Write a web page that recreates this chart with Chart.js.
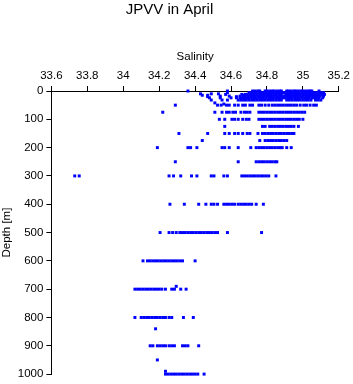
<!DOCTYPE html>
<html>
<head>
<meta charset="utf-8">
<script src="https://cdn.jsdelivr.net/npm/chart.js@4.4.1/dist/chart.umd.min.js"></script>
<style>
  html, body { margin: 0; padding: 0; background: #fff; }
</style>
</head>
<body>
<canvas id="myChart" width="353" height="384"></canvas>
<script>
// tick labels
const xTickValues = [33.6, 33.8, 34, 34.2, 34.4, 34.6, 34.8, 35, 35.2];
const xTickLabels = ["33.6", "33.8", "34", "34.2", "34.4", "34.6", "34.8", "35", "35.2"];
const yTickValues = [0, 100, 200, 300, 400, 500, 600, 700, 800, 900, 1000];

// sampled depths [m] and the salinity readings found at each depth
const depthLevels = [0, 6, 10, 12, 15, 18, 20, 24, 32, 42, 46, 50, 75, 100, 125, 150, 175, 200, 250, 300, 400, 500, 600, 690, 700, 800, 840, 900, 950, 990, 1000];
const salinityByLevel = [
  // 0
  [34.36, 34.58, 34.72, 34.735, 34.75, 34.76, 34.79, 34.80, 34.815, 34.83, 34.84, 34.855, 34.87, 34.88, 34.91, 34.92, 34.935, 34.95, 34.96, 34.975, 34.99, 35.0, 35.015, 35.03, 35.04, 35.05, 35.09],
  // 6
  [34.58, 34.70, 34.715, 34.73, 34.74, 34.755, 34.77, 34.78, 34.795, 34.81, 34.82, 34.835, 34.85, 34.86, 34.875, 34.89, 34.90, 34.915, 34.93, 34.94, 34.955, 34.97, 34.98, 34.995, 35.01, 35.02, 35.035, 35.05, 35.06, 35.075, 35.09, 35.10, 35.115],
  // 10
  [34.43, 34.49, 34.53],
  // 12
  [34.57, 34.66, 34.68, 34.69, 34.705, 34.72, 34.73, 34.745, 34.76, 34.77, 34.785, 34.80, 34.81, 34.825, 34.84, 34.85, 34.865, 34.88, 34.905, 34.92, 34.93, 34.945, 34.96, 34.97, 34.985, 35.0, 35.01, 35.025, 35.04, 35.05, 35.065, 35.08, 35.09, 35.105, 35.12],
  // 15
  [34.44, 34.47, 34.67],
  // 18
  [34.54, 34.59, 34.65, 34.67, 34.68, 34.695, 34.71, 34.72, 34.735, 34.75, 34.76, 34.775, 34.79, 34.80, 34.815, 34.83, 34.84, 34.855, 34.87, 34.88, 34.895, 34.91, 34.92, 34.935, 34.95, 34.96, 34.975, 34.99, 35.0, 35.015, 35.03, 35.04, 35.055, 35.07, 35.08, 35.095, 35.115],
  // 20
  [34.47, 34.63],
  // 24
  [34.48, 34.54, 34.60, 34.63, 34.65, 34.66, 34.675, 34.69, 34.70, 34.715, 34.73, 34.74, 34.755, 34.77, 34.78, 34.795, 34.81, 34.82, 34.835, 34.85, 34.86, 34.875, 34.89, 34.90, 34.915, 34.93, 34.94, 34.955, 34.97, 34.98, 34.995, 35.01, 35.02, 35.035, 35.05, 35.06, 35.075, 35.09, 35.11],
  // 32
  [34.49, 34.55, 34.58, 34.64, 34.655, 34.67, 34.685, 34.70, 34.715, 34.73, 34.745, 34.76, 34.775, 34.79, 34.805, 34.82, 34.835, 34.85, 34.865, 34.88, 34.91, 34.925, 34.94, 34.955, 34.97, 34.985, 35.0, 35.015, 35.03, 35.045, 35.07, 35.085, 35.10],
  // 42
  [34.51],
  // 46
  [34.56],
  // 50
  [34.29, 34.525, 34.545, 34.575, 34.59, 34.62, 34.64, 34.665, 34.68, 34.705, 34.72, 34.755, 34.77, 34.79, 34.81, 34.83, 34.845, 34.86, 34.875, 34.89, 34.905, 34.92, 34.935, 34.95, 34.965, 34.985, 35.005, 35.02, 35.04, 35.06, 35.075],
  // 75
  [34.22, 34.51, 34.55, 34.575, 34.59, 34.61, 34.625, 34.655, 34.675, 34.69, 34.705, 34.755, 34.77, 34.785, 34.80, 34.815, 34.83, 34.845, 34.86, 34.875, 34.89, 34.905, 34.92, 34.935, 34.95, 34.965, 34.98, 34.995, 35.01],
  // 100
  [34.535, 34.565, 34.605, 34.62, 34.64, 34.665, 34.685, 34.70, 34.755, 34.77, 34.785, 34.80, 34.815, 34.83, 34.845, 34.86, 34.875, 34.89, 34.905, 34.92, 34.935, 34.95, 34.965, 34.98, 35.0],
  // 125
  [34.565, 34.775, 34.79, 34.815, 34.83, 34.845, 34.86, 34.875, 34.89, 34.905, 34.92, 34.935, 34.95, 34.975],
  // 150
  [34.31, 34.47, 34.565, 34.59, 34.62, 34.64, 34.665, 34.69, 34.705, 34.75, 34.775, 34.79, 34.805, 34.82, 34.835, 34.85, 34.865, 34.88, 34.895, 34.91, 34.925, 34.94, 34.95],
  // 175
  [34.44, 34.76, 34.79, 34.805, 34.82, 34.835, 34.85, 34.865, 34.88, 34.895, 34.91],
  // 200
  [34.19, 34.36, 34.375, 34.41, 34.55, 34.565, 34.59, 34.64, 34.71, 34.74, 34.755, 34.77, 34.785, 34.80, 34.815, 34.83, 34.845, 34.86, 34.875, 34.885, 34.91, 34.935],
  // 250
  [34.29, 34.64, 34.74, 34.755, 34.77, 34.785, 34.80, 34.815, 34.83, 34.845, 34.855],
  // 300
  [33.73, 33.755, 34.255, 34.28, 34.32, 34.38, 34.41, 34.49, 34.505, 34.56, 34.58, 34.66, 34.675, 34.69, 34.705, 34.72, 34.735, 34.75, 34.765, 34.78, 34.795, 34.81, 34.85],
  // 400
  [34.26, 34.34, 34.42, 34.46, 34.49, 34.505, 34.525, 34.56, 34.575, 34.59, 34.605, 34.62, 34.64, 34.655, 34.67, 34.685, 34.70, 34.715, 34.74, 34.78],
  // 500
  [34.205, 34.255, 34.275, 34.295, 34.315, 34.33, 34.345, 34.36, 34.375, 34.39, 34.405, 34.42, 34.435, 34.45, 34.465, 34.48, 34.495, 34.51, 34.525, 34.58, 34.77],
  // 600
  [34.11, 34.135, 34.15, 34.165, 34.18, 34.195, 34.21, 34.225, 34.24, 34.255, 34.27, 34.285, 34.30, 34.315, 34.33, 34.40],
  // 690
  [34.295],
  // 700
  [34.065, 34.08, 34.095, 34.11, 34.125, 34.14, 34.155, 34.17, 34.185, 34.20, 34.215, 34.235, 34.27, 34.285, 34.32, 34.35],
  // 800
  [34.065, 34.10, 34.115, 34.13, 34.145, 34.16, 34.175, 34.19, 34.205, 34.22, 34.235, 34.255, 34.27, 34.335, 34.39],
  // 840
  [34.18],
  // 900
  [34.15, 34.165, 34.19, 34.205, 34.22, 34.235, 34.255, 34.27, 34.285, 34.33, 34.345, 34.36, 34.42],
  // 950
  [34.19],
  // 990
  [34.235],
  // 1000
  [34.235, 34.25, 34.265, 34.28, 34.295, 34.31, 34.325, 34.34, 34.355, 34.37, 34.385, 34.40, 34.415, 34.45]
];

const points = [];
depthLevels.forEach((d, i) => {
  salinityByLevel[i].forEach(s => points.push({ x: s, y: d }));
});

const ctx = document.getElementById("myChart");
const font = "'Liberation Sans', Arial, sans-serif";

new Chart(ctx, {
  type: "scatter",
  data: {
    datasets: [
      {
        data: points,
        backgroundColor: "#0000ff",
        borderWidth: 0,
        pointStyle: "rect",
        pointRadius: 2.1,
        pointBorderWidth: 0,
        clip: false,
      },
    ],
  },
  options: {
    responsive: false,
    animation: false,
    layout: { padding: { left: 0, right: 14, top: 0, bottom: 3 } },
    plugins: {
      legend: { display: false },
      tooltip: { enabled: false },
      title: {
        display: true,
        text: "JPVV in April",
        color: "#000",
        font: { family: font, size: 15, weight: "normal" },
        padding: { top: 1, bottom: 25.4 },
      },
    },
    scales: {
      x: {
        type: "linear",
        position: "top",
        min: 33.6,
        max: 35.2,
        afterBuildTicks: (axis) => {
          axis.ticks = xTickValues.map((v) => ({ value: v }));
        },
        ticks: {
          color: "#000",
          font: { family: font, size: 11.5 },
          padding: 3,
          maxRotation: 0,
          callback: (v, i) => xTickLabels[i],
        },
        grid: { drawOnChartArea: false, tickLength: 5, color: "#000" },
        border: { color: "#000", width: 1 },
        title: {
          display: true,
          text: "Salinity",
          color: "#000",
          font: { family: font, size: 11.5 },
          padding: { top: 6, bottom: 2 },
        },
      },
      y: {
        type: "linear",
        reverse: true,
        min: 0,
        max: 1000,
        afterBuildTicks: (axis) => {
          axis.ticks = yTickValues.map((v) => ({ value: v }));
        },
        ticks: {
          color: "#000",
          font: { family: font, size: 11.5 },
          padding: 3,
          callback: (v) => String(v),
        },
        grid: { drawOnChartArea: false, tickLength: 5, color: "#000" },
        border: { color: "#000", width: 1 },
        title: {
          display: true,
          text: "Depth [m]",
          color: "#000",
          font: { family: font, size: 11.5 },
          padding: { top: 0, bottom: 1 },
        },
      },
    },
  },
});
</script>
</body>
</html>
